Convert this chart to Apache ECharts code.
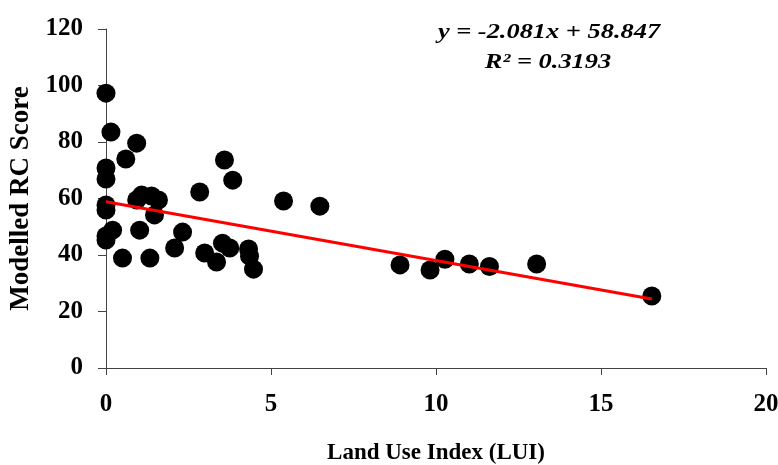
<!DOCTYPE html>
<html>
<head>
<meta charset="utf-8">
<script src="https://cdn.jsdelivr.net/npm/echarts@6/dist/echarts.min.js"></script>
<style>
  html, body { margin: 0; padding: 0; background: #fff; }
  #chart { width: 778px; height: 465px; }
</style>
</head>
<body>
<div id="chart"></div>
<script>
// Land Use Index (LUI) of each site
const lui = [
  0, 0.15, 0.93, 0.6, 0, 0, 0, 0, 0, 0.2,
  0, 0.5, 1.33, 1.02, 0.93, 1.08, 1.38, 1.59, 1.47, 2.84,
  3.59, 3.84, 2.32, 2.08, 2.99, 3.35, 3.53, 3.75, 4.32, 4.35,
  4.47, 5.38, 6.48, 8.91, 9.82, 10.27, 11.01, 11.62, 13.05, 16.54
];
// Modelled RC score of each site
const rcScore = [
  97.3, 83.5, 79.6, 74.0, 70.8, 66.9, 57.7, 55.9, 46.7, 48.8,
  45.3, 38.9, 38.9, 48.8, 59.5, 61.2, 60.9, 59.5, 54.2, 62.3,
  73.6, 66.5, 48.1, 42.5, 40.7, 37.5, 44.2, 42.5, 42.1, 39.6,
  35.0, 59.1, 57.3, 36.5, 34.7, 38.5, 36.8, 35.9, 36.8, 25.5
];
// Linear fit
const slope = -2.081;
const intercept = 58.847;
const rSquared = 0.3193;
const xTicks = [0, 5, 10, 15, 20];
const yTicks = [0, 20, 40, 60, 80, 100, 120];

const points = lui.map((x, i) => [x, rcScore[i]]);
const xMin = Math.min(...lui), xMax = Math.max(...lui);
const fitLine = [[xMin, slope * xMin + intercept], [xMax, slope * xMax + intercept]];

const serif = '"Liberation Serif", "Times New Roman", serif';
const axisCol = '#444';

const chart = echarts.init(document.getElementById('chart'));
chart.setOption({
  animation: false,
  backgroundColor: '#fff',
  grid: { left: 106, right: 12, top: 29, bottom: 97, containLabel: false, outerBoundsMode: 'none' },
  xAxis: {
    type: 'value',
    min: xTicks[0], max: xTicks[xTicks.length - 1], interval: 5,
    name: 'Land Use Index (LUI)',
    nameLocation: 'middle', nameGap: 74,
    nameTextStyle: { fontFamily: serif, fontWeight: 'bold', fontSize: 23, color: '#000' },
    axisLine: { show: true, onZero: false, lineStyle: { color: axisCol, width: 1 } },
    axisTick: { show: true, inside: false, length: 7, lineStyle: { color: axisCol } },
    axisLabel: { fontFamily: serif, fontWeight: 'bold', fontSize: 25, color: '#000', margin: 24 },
    splitLine: { show: false }
  },
  yAxis: {
    type: 'value',
    min: yTicks[0], max: yTicks[yTicks.length - 1], interval: 20,
    name: 'Modelled RC Score',
    nameLocation: 'middle', nameGap: 70,
    nameTextStyle: { fontFamily: serif, fontWeight: 'bold', fontSize: 27, color: '#000' },
    axisLine: { show: true, onZero: false, lineStyle: { color: axisCol, width: 1 } },
    axisTick: { show: true, inside: false, length: 8, lineStyle: { color: axisCol } },
    axisLabel: { fontFamily: serif, fontWeight: 'bold', fontSize: 25, color: '#000', margin: 23 },
    splitLine: { show: false }
  },
  series: [
    {
      type: 'scatter',
      data: points,
      symbol: 'circle',
      symbolSize: 19,
      itemStyle: { color: '#000', opacity: 1 },
      z: 2
    },
    {
      type: 'line',
      data: fitLine,
      symbol: 'none',
      lineStyle: { color: '#ff0000', width: 3 },
      z: 3
    }
  ],
  graphic: [
    {
      type: 'text', x: 549, y: 32, scaleX: 1.2,
      style: {
        x: 0, y: 0,
        text: 'y = ' + slope.toFixed(3) + 'x + ' + intercept.toFixed(3),
        font: 'italic bold 22px ' + serif, fill: '#000',
        textAlign: 'center', textVerticalAlign: 'middle'
      }
    },
    {
      type: 'text', x: 548, y: 62, scaleX: 1.2,
      style: {
        x: 0, y: 0,
        text: 'R² = ' + rSquared.toFixed(4),
        font: 'italic bold 22px ' + serif, fill: '#000',
        textAlign: 'center', textVerticalAlign: 'middle'
      }
    }
  ]
});
</script>
</body>
</html>
